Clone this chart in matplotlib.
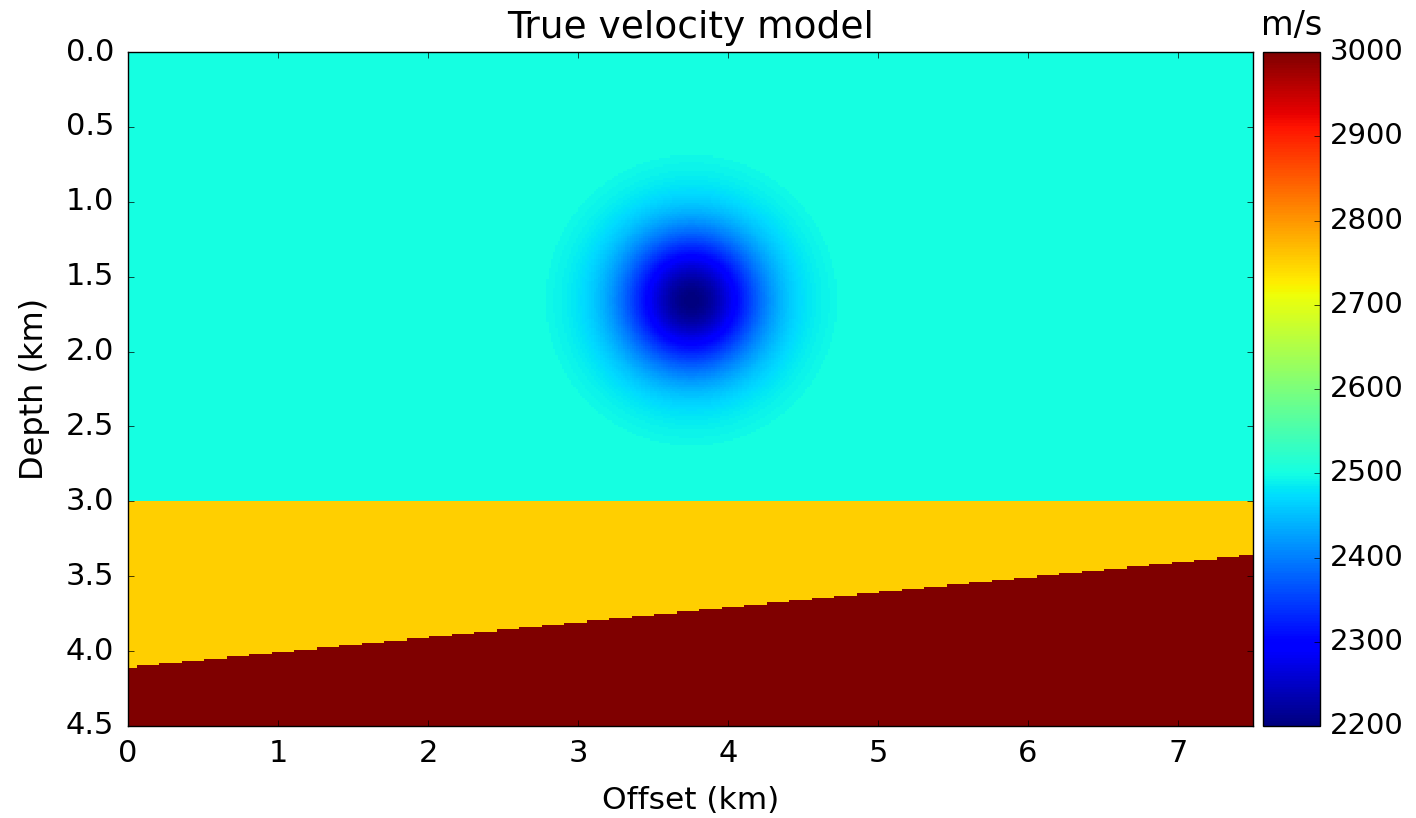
import numpy as np
import matplotlib
matplotlib.use('Agg')
import matplotlib.pyplot as plt

# model grid (km)
dx = 0.015
nx, nz = 500, 300

# layer velocities (m/s): background, middle layer, bottom layer
layer_vel = [2500, 2750, 3000]
# flat interface depth (km)
z_flat = 3.0
# dipping interface: depth at x=0 and x=7.5 km
z_dip = [4.1, 3.35]
x_dip = [0.0, 7.5]

# low velocity anomaly: centre (km), amplitude (m/s), width and cut-off radius (km)
anom_x, anom_z = 3.75, 1.65
anom_amp = -300
anom_sigma = 0.33
anom_rmax = 0.97

cb_ticks = [2200, 2300, 2400, 2500, 2600, 2700, 2800, 2900, 3000]


def build_model():
    x = np.arange(nx) * dx
    z = np.arange(nz) * dx
    X, Z = np.meshgrid(x, z)
    vel = np.full((nz, nx), float(layer_vel[0]))
    vel[Z >= z_flat] = layer_vel[1]
    zi = np.interp(X, x_dip, z_dip)
    vel[Z >= zi] = layer_vel[2]
    r2 = (X - anom_x)**2 + (Z - anom_z)**2
    g = anom_amp * np.exp(-r2 / (2 * anom_sigma**2))
    g[r2 > anom_rmax**2] = 0.0
    vel[Z < z_flat] += g[Z < z_flat]
    return vel


plt.style.use('classic')

vel = build_model()

fig = plt.figure(figsize=(14.16, 8.18), dpi=100)
ax = fig.add_axes([128/1416, 92/818, 1125/1416, 674/818])
cax = fig.add_axes([1263/1416, 92/818, 57/1416, 674/818])

im = ax.imshow(vel, cmap='jet', vmin=2200, vmax=3000, extent=[0, 7.5, 4.5, 0],
               interpolation='nearest', aspect='auto')
ax.set_xlim(0, 7.5)
ax.set_ylim(4.5, 0)
ax.set_yticks(np.arange(0, 4.51, 0.5))
ax.set_xticks(np.arange(0, 8, 1))
ax.set_xlabel('Offset (km)', fontsize=22.5, labelpad=13)
ax.set_ylabel('Depth (km)', fontsize=23, labelpad=11)
ax.set_title('True velocity model', fontsize=27, pad=10)
ax.tick_params(axis='y', labelsize=22, pad=10)
ax.tick_params(axis='x', labelsize=22, pad=9)

cb = fig.colorbar(im, cax=cax, ticks=cb_ticks)
cb.ax.tick_params(labelsize=21, pad=7)
cb.ax.set_title('m/s', fontsize=24, pad=12)

fig.savefig('out.png', dpi=100)
